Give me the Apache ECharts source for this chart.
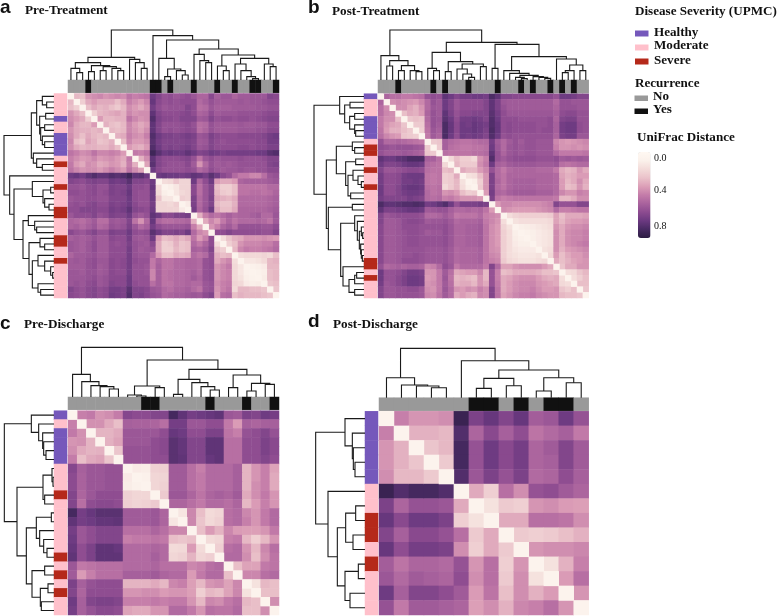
<!DOCTYPE html>
<html><head><meta charset="utf-8">
<style>html,body{margin:0;padding:0;background:#fff}#c{width:778px;height:616px}</style>
<script src="https://cdn.jsdelivr.net/npm/echarts@6/dist/echarts.min.js"></script>
</head><body><div id="c"></div>
<script>
// Severity per row: 0 healthy, 1 moderate, 2 severe. Recurrence per column: 0 no, 1 yes.
var severityA=[1,1,1,1,0,1,1,0,0,0,0,1,2,1,1,1,2,1,1,1,2,2,1,1,1,2,2,1,1,2,1,1,1,1,1,1];
var recurrenceA=[0,0,0,1,0,0,0,0,0,0,0,0,0,0,1,1,0,1,0,0,0,1,0,0,0,1,0,0,1,0,0,1,1,0,0,1];
var severityB=[0,1,1,1,0,0,0,0,1,2,2,1,1,2,1,1,2,1,1,1,1,1,1,1,1,1,1,1,1,2,2,1,2,1,1,1];
var recurrenceB=[0,0,0,1,0,0,0,0,0,1,0,1,0,0,0,1,0,0,0,0,1,0,0,0,1,0,1,0,0,1,0,1,0,1,0,0];
var severityC=[0,1,0,0,0,0,1,1,1,2,1,1,1,1,1,1,2,1,2,1,2,1,1];
var recurrenceC=[0,0,0,0,0,0,0,0,1,1,0,0,0,0,0,1,0,0,0,1,0,0,1];
var severityD=[0,0,0,0,0,1,1,2,2,1,2,1,1,1];
var recurrenceD=[0,0,0,0,0,0,1,1,0,1,0,1,1,0];

// Upper triangle of each UniFrac distance matrix, in hundredths, row by row.
var distA=[
[26,24,36,38,40,36,38,40,38,46,42,44,46,72,66,60,62,58,60,62,58,52,52,64,54,58,58,52,56,56,58,58,58,66,64],
[18,30,34,30,30,30,24,30,42,38,34,40,74,64,60,62,60,62,62,62,50,54,60,56,56,56,56,58,56,58,58,60,62,62],
[24,30,26,28,24,20,26,38,34,30,36,70,62,58,60,60,60,66,62,48,50,58,54,54,54,56,56,56,56,58,58,60,60],
[18,26,28,30,32,28,40,36,38,38,76,66,62,62,62,64,66,62,52,54,62,56,58,58,58,60,60,60,60,62,64,64],
[34,26,26,28,28,46,40,36,38,80,68,64,64,62,66,66,66,56,58,66,60,62,62,60,62,62,60,62,64,66,66],
[28,24,22,26,40,34,30,34,76,66,60,60,60,62,64,60,48,50,60,56,56,56,56,58,56,56,58,58,62,62],
[26,24,26,40,36,32,38,76,66,60,62,60,62,64,62,48,52,60,56,56,56,56,58,58,58,60,60,64,64],
[28,30,42,38,36,42,80,72,68,68,66,68,70,68,58,60,68,64,62,62,62,64,64,64,64,66,70,72],
[24,40,34,34,38,78,70,66,66,66,66,68,66,56,58,66,62,60,62,62,62,62,62,64,64,70,70],
[34,30,28,34,80,72,66,68,66,68,70,66,58,60,66,62,62,62,62,64,64,62,64,64,68,68],
[44,42,46,86,78,72,74,72,72,76,72,66,68,72,70,68,70,70,70,70,70,72,72,78,80],
[28,38,76,66,62,62,62,64,66,60,46,58,62,58,60,60,60,62,60,60,60,62,66,66],
[32,78,66,62,60,60,60,64,56,36,50,60,56,58,56,58,60,60,60,60,60,66,68],
[72,64,60,60,60,60,62,60,50,54,62,58,56,58,58,60,58,58,60,60,64,64],
[72,74,72,72,70,72,76,74,70,78,72,64,60,50,44,44,40,40,48,58,60],
[12,14,22,16,16,72,52,62,72,34,30,30,34,52,54,54,54,54,56,58],
[4,8,16,16,64,48,58,66,24,18,18,24,46,46,46,46,46,50,50],
[8,14,16,64,48,58,66,26,20,18,24,46,46,48,48,46,48,52],
[18,16,68,50,58,68,30,28,26,30,50,50,50,50,50,52,54],
[6,68,50,58,66,26,22,22,28,50,50,50,50,50,52,54],
[70,52,60,72,30,24,24,30,52,52,52,52,52,54,56],
[28,42,50,46,50,54,50,52,52,54,56,50,50,58],
[30,40,34,44,52,46,50,50,50,52,50,46,56],
[36,42,52,56,50,60,60,60,60,58,58,62],
[62,62,66,62,62,62,62,62,60,60,66],
[12,22,28,30,36,36,36,38,36,34],
[18,24,36,40,40,40,42,42,48],
[26,40,44,42,42,44,46,50],
[12,14,14,14,16,14,24],
[8,8,10,14,26,28],
[3,4,6,26,26],
[2,4,24,26],
[5,24,26],
[22,24],
[22]];
var distB=[
[52,48,48,44,44,46,48,60,62,60,76,72,66,70,70,72,72,70,82,76,66,66,64,64,64,64,64,64,64,60,72,72,70,66,66],
[38,40,38,36,34,40,50,60,56,72,66,58,62,62,62,62,66,76,68,58,56,56,56,56,56,56,56,56,50,60,60,58,58,58],
[38,38,32,28,36,50,58,56,72,66,58,62,62,62,62,66,76,68,60,56,56,56,56,56,56,56,56,52,60,60,60,58,58],
[24,30,28,34,52,60,56,76,68,60,64,64,66,66,66,78,70,62,58,58,58,58,58,58,58,58,54,62,64,64,60,60],
[22,24,22,50,60,58,78,72,62,70,70,72,70,66,80,72,62,62,62,60,60,60,60,60,62,52,66,68,68,60,60],
[20,20,48,60,56,82,74,64,72,70,74,72,70,80,74,62,64,62,62,62,62,60,60,62,54,70,72,72,62,60],
[18,46,58,54,82,74,64,72,72,74,72,68,82,74,62,64,62,62,62,62,60,62,62,54,70,72,72,62,60],
[44,56,52,82,72,62,72,70,72,70,66,80,72,60,62,60,60,60,60,60,60,60,52,68,70,70,58,58],
[20,22,54,50,48,46,46,48,50,50,70,56,50,56,60,56,60,60,58,58,58,40,36,34,36,38,40],
[20,54,48,46,44,44,46,46,48,72,58,50,58,60,58,60,60,58,58,58,42,36,36,38,36,38],
[48,46,46,46,46,48,48,50,76,60,52,58,60,58,60,60,58,58,58,50,44,44,44,44,46],
[14,24,18,18,14,36,42,80,60,56,60,62,62,62,62,60,60,60,62,56,58,56,58,56],
[26,20,20,20,38,44,72,54,52,56,58,58,58,58,56,56,56,58,48,46,48,50,50],
[30,26,26,34,40,60,50,44,50,52,52,52,52,50,50,50,44,30,26,28,36,30],
[10,12,24,36,68,50,46,52,52,52,52,52,52,52,52,50,32,28,30,34,34],
[4,18,36,68,52,46,52,54,54,54,54,52,52,52,50,34,26,30,38,30],
[20,36,68,50,46,52,54,54,54,54,52,52,52,50,34,24,26,36,28],
[34,70,52,50,54,56,56,56,56,54,54,54,50,40,36,36,42,40],
[68,46,42,44,46,46,46,46,46,46,46,44,26,26,30,38,38],
[34,40,40,38,38,38,38,38,40,42,66,60,60,60,66,66],
[38,36,34,34,34,34,36,38,40,50,42,42,44,46,46],
[12,16,18,18,18,18,18,20,32,24,30,30,30,32],
[10,12,12,12,12,12,14,32,26,32,34,34,36],
[4,5,6,8,10,12,36,30,36,38,38,40],
[3,4,6,8,10,38,30,38,40,40,42],
[4,6,8,10,38,30,38,40,40,42],
[6,8,10,38,30,38,40,42,44],
[10,12,38,28,34,36,38,40],
[14,34,24,30,34,34,38],
[30,24,28,32,34,36],
[22,30,30,36,36],
[12,14,22,26],
[12,18,24],
[24,24],
[22]];
var distC=[
[42,44,36,38,43,65,63,63,66,66,84,76,70,72,74,76,58,56,68,66,72,70],
[37,37,30,24,54,53,53,52,48,70,70,58,58,62,62,44,34,54,52,54,54],
[27,27,30,58,58,58,58,62,74,72,62,62,68,68,46,42,60,62,66,60],
[28,32,58,58,58,62,64,78,75,66,66,76,76,48,48,62,62,68,64],
[22,60,60,60,62,64,78,75,66,66,76,76,48,48,62,62,68,64],
[60,60,60,62,62,78,76,66,66,74,76,48,48,62,62,66,62],
[6,5,17,18,56,56,48,42,50,50,50,54,27,36,42,32],
[3,15,16,56,56,48,44,50,50,50,54,27,36,42,30],
[15,17,56,56,48,44,50,50,50,54,27,38,42,30],
[20,58,58,52,46,52,54,52,56,30,38,44,36],
[52,52,48,44,50,50,48,52,26,34,42,36],
[8,40,24,13,15,48,50,40,36,44,50],
[40,22,14,17,48,50,42,36,44,50],
[24,34,27,40,34,33,33,36,44],
[13,15,42,44,26,18,26,36],
[18,48,50,36,26,40,48],
[50,50,38,24,38,46],
[24,32,32,44,46],
[40,40,48,50],
[10,26,24],
[24,24],
[38]];
var distD=[
[42,36,36,38,88,68,74,66,74,55,58,72,60],
[28,28,26,80,52,64,54,62,46,50,54,44],
[22,26,84,60,72,64,70,52,56,66,56],
[20,84,60,72,64,70,52,54,66,56],
[80,58,68,60,68,50,52,62,54],
[30,18,48,38,60,62,56,52],
[10,20,18,36,38,34,33],
[30,30,48,48,46,38],
[20,18,20,24,28],
[36,38,38,40],
[10,28,42],
[34,48],
[36]];

// Clustering trees: a node is [left, right, height]; 0 is a leaf. Leaves run in matrix order.
var treeA=[[[[0,[0,0,22],35],[[0,0,25],[[0,0,28],[0,[0,0,28],35],40],43],52],[0,[0,[0,0,35],52],62],68],
[0,[[0,[[0,0,10],[0,[0,0,15],28],33],65],[[0,[0,[0,0,52],58],77],[[0,[0,0,28],42],[[0,[0,[0,[0,0,4],10],28],48],[0,[0,0,40],48],65],75],93],120],133],150];
var treeB=[[0,[[0,0,42],[[0,0,28],[0,[0,0,25],28],43],58],73],
[[[0,[0,0,28],35],[[0,0,25],[[0,[0,[0,0,8],18],33],[0,0,40],48],55],83],
[[0,0,35],[[0,[0,[[0,[0,0,4],8],[0,[0,[0,0,5],8],10],14],20],28],[0,[[[0,0,22],0,28],[0,0,28],45],63],70],107],113],150];
var treeC=[[0,[0,[0,[0,[0,0,24],31],34],46],68],
[[[0,[0,0,3],6],[0,0,28],33],[[[0,0,8],[0,[0,[0,0,21],31],43],53],[[0,0,28],[[0,0,18],[0,0,38],41],66],83],111],149];
var treeD=[[0,[0,[0,[0,0,30],35],38],60],
[0,[[[0,0,28],[0,0,36],58],[[0,0,20],[0,0,45],60],83],111],148];

var severityNames=['Healthy','Moderate','Severe'];
var recurrenceNames=['No','Yes'];
var colorTicks=['0.0','0.4','0.8'];

var COLORS={healthy:'#7558bb',moderate:'#ffc0cb',severe:'#b5291a',no:'#999999',yes:'#111111'};
var RAMP=['#fff8f2','#fbf1eb','#f3dbd9','#eac2ca','#dc9fb7','#c47ca9','#a9629d','#8c4b90','#6b3980','#482a62','#2b1c42'];

function fullMatrix(upper,n){
  var out=[];
  for(var i=0;i<n;i++){
    var r=upper[i]||[];
    if(r.length!==n-1-i&&i<n-1) throw new Error('row '+i+' has '+r.length+' wants '+(n-1-i));
    for(var j=0;j<r.length;j++){
      out.push([j+i+1,i,r[j]/100]);out.push([i,j+i+1,r[j]/100]);
    }
    out.push([i,i,0]);
  }
  return out;
}
function segments(tree){
  var next=0,segs=[];
  (function walk(node){
    if(node===0){return {p:(next++)+0.5,h:0};}
    var l=walk(node[0]),r=walk(node[1]);
    segs.push([l.p,l.h,r.p,r.h,node[2]]);
    return {p:(l.p+r.p)/2,h:node[2]};
  })(tree);
  return segs;
}
var panels=[
 {d:distA,t:treeA,s:severityA,r:recurrenceA,x:68,w:211,y:93.5,h:204.5,ay:80,ah:12.7,lx:54,lw:13},
 {d:distB,t:treeB,s:severityB,r:recurrenceB,x:378,w:210.7,y:93.7,h:204.3,ay:80,ah:13,lx:364,lw:13},
 {d:distC,t:treeC,s:severityC,r:recurrenceC,x:68,w:211,y:410.7,h:204.3,ay:397,ah:12.7,lx:54,lw:13},
 {d:distD,t:treeD,s:severityD,r:recurrenceD,x:379,w:209.7,y:411.3,h:203.7,ay:397.7,ah:13,lx:365,lw:13}
];
var grid=[],xAxis=[],yAxis=[],series=[],heatIdx=[],annoIdx=[];
function addGrid(l,t,w,h,xa,ya){
  var i=grid.length;
  grid.push({left:l,top:t,width:w,height:h,containLabel:false});
  xa.show=false;ya.show=false;xa.gridIndex=i;ya.gridIndex=i;
  xAxis.push(xa);yAxis.push(ya);
  return i;
}
function cats(n){var a=[];for(var i=0;i<n;i++)a.push(i);return a;}
panels.forEach(function(p){
  var n=p.s.length,all=cats(n);
  var g=addGrid(p.x,p.y,p.w,p.h,{type:'category',data:all},{type:'category',data:all,inverse:true});
  heatIdx.push(series.length);
  series.push({type:'heatmap',xAxisIndex:g,yAxisIndex:g,data:fullMatrix(p.d,n),progressive:0,silent:true});
  g=addGrid(p.x,p.ay,p.w,p.ah,{type:'category',data:all},{type:'category',data:[0]});
  annoIdx.push(series.length);
  series.push({type:'heatmap',xAxisIndex:g,yAxisIndex:g,progressive:0,silent:true,
    data:p.r.map(function(v,i){return [i,0,v+3];})});
  g=addGrid(p.lx,p.y,p.lw,p.h,{type:'category',data:[0]},{type:'category',data:all,inverse:true});
  annoIdx.push(series.length);
  series.push({type:'heatmap',xAxisIndex:g,yAxisIndex:g,progressive:0,silent:true,
    data:p.s.map(function(v,i){return [0,i,v];})});
  var segs=segments(p.t);
  g=addGrid(p.x,p.ay-52,p.w,52,{type:'value',min:0,max:n},{type:'value',min:0,max:156});
  series.push({type:'lines',coordinateSystem:'cartesian2d',polyline:true,xAxisIndex:g,yAxisIndex:g,silent:true,clip:false,
    lineStyle:{color:'#1a1a1a',width:1.1,opacity:1},
    data:segs.map(function(s){return {coords:[[s[0],s[1]],[s[0],s[4]],[s[2],s[4]],[s[2],s[3]]]};})});
  g=addGrid(p.lx-52,p.y,52,p.h,{type:'value',min:0,max:156,inverse:true},{type:'value',min:0,max:n,inverse:true});
  series.push({type:'lines',coordinateSystem:'cartesian2d',polyline:true,xAxisIndex:g,yAxisIndex:g,silent:true,clip:false,
    lineStyle:{color:'#1a1a1a',width:1.1,opacity:1},
    data:segs.map(function(s){return {coords:[[s[1],s[0]],[s[4],s[0]],[s[4],s[2]],[s[3],s[2]]]};})});
});
function txt(x,y,s,size,weight,family){
  return {type:'text',x:x,y:y,silent:true,style:{text:s,fill:'#111',font:(weight||'bold')+' '+size+'px '+(family||'"Liberation Serif"'),textVerticalAlign:'middle',textBaseline:'middle'}};
}
function sw(x,y,w,h,c){return {type:'rect',silent:true,shape:{x:x,y:y,width:w,height:h},style:{fill:c}};}
var g=[
 txt(0,8,'a',19,'bold','"Liberation Sans"'),txt(25,11,'Pre-Treatment',13.2),
 txt(308,8,'b',19,'bold','"Liberation Sans"'),txt(332,11.5,'Post-Treatment',13.2),
 txt(0,324,'c',19,'bold','"Liberation Sans"'),txt(24,325,'Pre-Discharge',13.2),
 txt(308,322,'d',19,'bold','"Liberation Sans"'),txt(333,325,'Post-Discharge',13.2),
 txt(635,11.7,'Disease Severity (UPMC)',13.1),
 sw(635,30.5,13.5,6,COLORS.healthy),txt(654,32.7,severityNames[0],13.1),
 sw(635,44.5,13.5,6,COLORS.moderate),txt(654,46,severityNames[1],13.1),
 sw(635,58.5,13.5,6,COLORS.severe),txt(654,61,severityNames[2],13.1),
 txt(635,83.5,'Recurrence',13.1),
 sw(634.5,95.5,13.5,5.5,COLORS.no),txt(653,97,recurrenceNames[0],13.1),
 sw(634.5,108.5,13.5,5.5,COLORS.yes),txt(653,110,recurrenceNames[1],13.1),
 txt(637,137.7,'UniFrac Distance',13.1),
 txt(654,158,colorTicks[0],10,'normal'),txt(654,190,colorTicks[1],10,'normal'),txt(654,226.7,colorTicks[2],10,'normal')
];
var chart=echarts.init(document.getElementById('c'),null,{renderer:'canvas'});
chart.setOption({
  animation:false,backgroundColor:'#fff',grid:grid,xAxis:xAxis,yAxis:yAxis,series:series,graphic:g,
  visualMap:[
   {type:'continuous',min:-0.07,max:0.93,seriesIndex:heatIdx,inverse:true,left:638,top:152,itemWidth:12.5,itemHeight:86,text:[],calculable:false,realtime:false,
    inRange:{color:RAMP},padding:0,hoverLink:false,showLabel:false},
   {type:'piecewise',show:false,seriesIndex:annoIdx,pieces:[
     {value:0,color:COLORS.healthy},{value:1,color:COLORS.moderate},{value:2,color:COLORS.severe},{value:3,color:COLORS.no},{value:4,color:COLORS.yes}]}
  ]
});
</script></body></html>
